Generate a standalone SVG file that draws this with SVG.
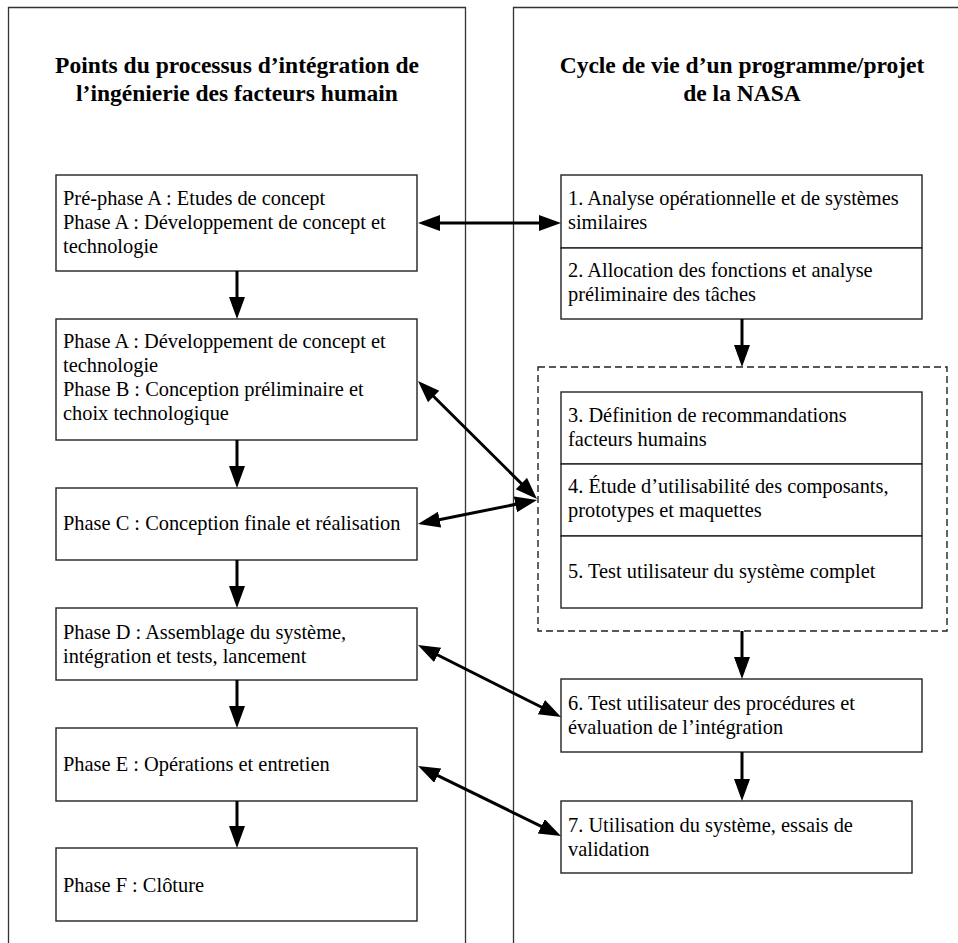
<svg xmlns="http://www.w3.org/2000/svg" width="958" height="943" viewBox="0 0 958 943">
<defs>
<style>
.panel{fill:none;stroke:#333;stroke-width:1.3}
.box{fill:#fff;stroke:#222;stroke-width:1.4}
.dash{fill:none;stroke:#222;stroke-width:1.4;stroke-dasharray:7 4}
.t{font-family:"Liberation Serif","Times New Roman",serif;font-size:20.4px;fill:#000}
.title{font-family:"Liberation Serif","Times New Roman",serif;font-size:23.5px;font-weight:bold;fill:#000;text-anchor:middle}
.arr{fill:none;stroke:#000;stroke-width:3;marker-end:url(#ah)}
.bi{fill:none;stroke:#000;stroke-width:3;marker-start:url(#ah);marker-end:url(#ah)}
</style>
<marker id="ah" markerUnits="userSpaceOnUse" markerWidth="24" markerHeight="18" refX="12" refY="8" orient="auto-start-reverse" viewBox="0 0 24 18">
<path d="M0,0 L22,8 L0,16 z" fill="#000"/>
</marker>
</defs>
<rect width="958" height="943" fill="#fff"/>

<g id="panel-left">
<path class="panel" d="M8.5,950 V7.5 H465.5 V950"/>
<text class="title" x="237" y="73">Points du processus d’intégration de</text>
<text class="title" x="237" y="101">l’ingénierie des facteurs humain</text>
</g>
<g id="panel-right">
<path class="panel" d="M513.5,950 V7.5 H970"/>
<text class="title" x="742" y="73">Cycle de vie d’un programme/projet</text>
<text class="title" x="742" y="101">de la NASA</text>
</g>

<g id="group-dashed">
<rect class="dash" x="538" y="367" width="409" height="264"/>
</g>

<g id="L1">
<rect class="box" x="56" y="175" width="361" height="96"/>
<text class="t" x="63" y="205">Pré-phase A : Etudes de concept</text>
<text class="t" x="63" y="229">Phase A : Développement de concept et</text>
<text class="t" x="63" y="253">technologie</text>
</g>
<g id="L2">
<rect class="box" x="56" y="319" width="361" height="121"/>
<text class="t" x="63" y="348">Phase A : Développement de concept et</text>
<text class="t" x="63" y="372">technologie</text>
<text class="t" x="63" y="396">Phase B : Conception préliminaire et</text>
<text class="t" x="63" y="420">choix technologique</text>
</g>
<g id="L3">
<rect class="box" x="56" y="488" width="361" height="72"/>
<text class="t" x="63" y="530">Phase C : Conception finale et réalisation</text>
</g>
<g id="L4">
<rect class="box" x="56" y="608" width="361" height="72"/>
<text class="t" x="63" y="639">Phase D : Assemblage du système,</text>
<text class="t" x="63" y="663">intégration et tests, lancement</text>
</g>
<g id="L5">
<rect class="box" x="56" y="728" width="361" height="73"/>
<text class="t" x="63" y="771">Phase E : Opérations et entretien</text>
</g>
<g id="L6">
<rect class="box" x="56" y="848" width="361" height="73"/>
<text class="t" x="63" y="892">Phase F : Clôture</text>
</g>

<g id="R1">
<rect class="box" x="561" y="175" width="361" height="73"/>
<text class="t" x="568" y="205">1. Analyse opérationnelle et de systèmes</text>
<text class="t" x="568" y="229">similaires</text>
</g>
<g id="R2">
<rect class="box" x="561" y="248" width="361" height="71"/>
<text class="t" x="568" y="277">2. Allocation des fonctions et analyse</text>
<text class="t" x="568" y="301">préliminaire des tâches</text>
</g>
<g id="R3">
<rect class="box" x="561" y="392" width="361" height="72"/>
<text class="t" x="568" y="422">3. Définition de recommandations</text>
<text class="t" x="568" y="446">facteurs humains</text>
</g>
<g id="R4">
<rect class="box" x="561" y="464" width="361" height="72"/>
<text class="t" x="568" y="493">4. Étude d’utilisabilité des composants,</text>
<text class="t" x="568" y="517">prototypes et maquettes</text>
</g>
<g id="R5">
<rect class="box" x="561" y="536" width="361" height="72"/>
<text class="t" x="568" y="578">5. Test utilisateur du système complet</text>
</g>
<g id="R6">
<rect class="box" x="561" y="679" width="361" height="73"/>
<text class="t" x="568" y="710">6. Test utilisateur des procédures et</text>
<text class="t" x="568" y="734">évaluation de l’intégration</text>
</g>
<g id="R7">
<rect class="box" x="561" y="801" width="351" height="72"/>
<text class="t" x="568" y="832">7. Utilisation du système, essais de</text>
<text class="t" x="568" y="856">validation</text>
</g>

<g id="connectors">
<line class="arr" x1="237" y1="271" x2="237" y2="309"/>
<line class="arr" x1="237" y1="440" x2="237" y2="478"/>
<line class="arr" x1="237" y1="560" x2="237" y2="598"/>
<line class="arr" x1="237" y1="680" x2="237" y2="718"/>
<line class="arr" x1="237" y1="801" x2="237" y2="838"/>
<line class="arr" x1="742" y1="319" x2="742" y2="357"/>
<line class="arr" x1="742" y1="631" x2="742" y2="669"/>
<line class="arr" x1="742" y1="752" x2="742" y2="791"/>
<line class="bi" x1="428" y1="223" x2="551" y2="223"/>
<line class="bi" x1="425.1" y1="388" x2="529.9" y2="492"/>
<line class="bi" x1="427.8" y1="522" x2="527.2" y2="502"/>
<line class="bi" x1="426.9" y1="649.5" x2="552.1" y2="712.5"/>
<line class="bi" x1="427" y1="770.4" x2="552" y2="831.6"/>
</g>
</svg>
